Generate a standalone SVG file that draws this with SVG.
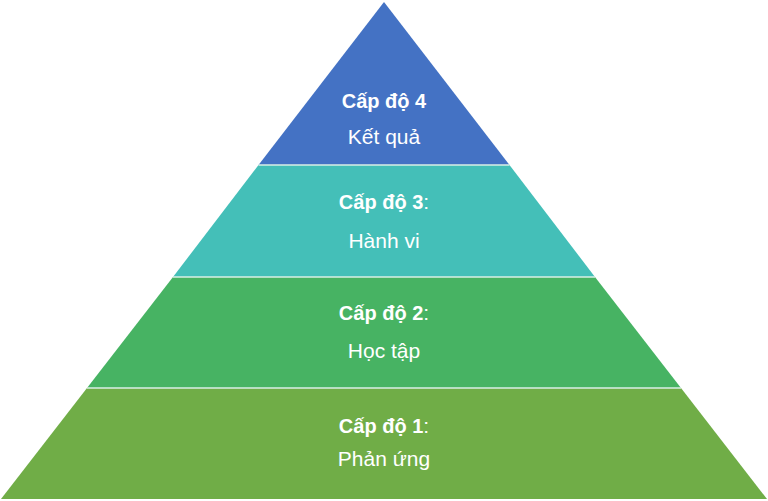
<svg xmlns="http://www.w3.org/2000/svg" width="768" height="501" viewBox="0 0 768 501">
<style>
.t{font-family:"Liberation Sans",Arial,sans-serif;font-size:21px;fill:#fff;text-anchor:middle}
.b{font-weight:bold;font-size:20px}
.sep{stroke:#d8efe6;stroke-width:1.5}
</style>
<rect width="768" height="501" fill="#fff"/>
<g id="level4">
<polygon points="384,2 258.5,165 509.5,165" fill="#4472C4"/>
<text class="t" x="384" y="108"><tspan class="b">Cấp độ 4</tspan></text>
<text class="t" x="384" y="144">Kết quả</text>
</g>
<g id="level3">
<polygon points="258.5,165 509.5,165 595,277 173,277" fill="#44BFB8"/>
<text class="t" x="384" y="209"><tspan class="b">Cấp độ 3</tspan>:</text>
<text class="t" x="384" y="248">Hành vi</text>
</g>
<g id="level2">
<polygon points="173,277 595,277 681,388 87,388" fill="#47B363"/>
<text class="t" x="384" y="320"><tspan class="b">Cấp độ 2</tspan>:</text>
<text class="t" x="384" y="358">Học tập</text>
</g>
<g id="level1">
<polygon points="87,388 681,388 767,499 1,499" fill="#70AD47"/>
<text class="t" x="384" y="433"><tspan class="b">Cấp độ 1</tspan>:</text>
<text class="t" x="384" y="466">Phản ứng</text>
</g>
<g id="connectors">
<line class="sep" x1="258.5" y1="165" x2="509.5" y2="165"/>
<line class="sep" x1="173" y1="277" x2="595" y2="277"/>
<line class="sep" x1="87" y1="388" x2="681" y2="388"/>
</g>
</svg>
